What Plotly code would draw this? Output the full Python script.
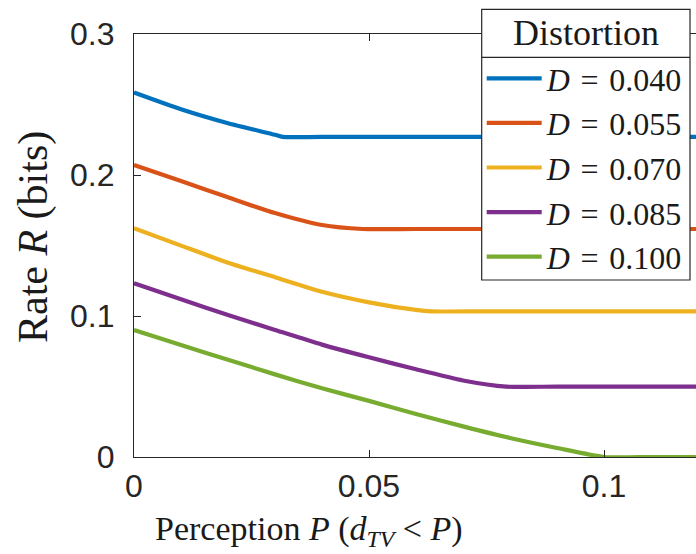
import plotly.graph_objects as go

# ---- data ----
series_names = ["<i>D</i>\u2004=\u20040.040", "<i>D</i>\u2004=\u20040.055",
                "<i>D</i>\u2004=\u20040.070", "<i>D</i>\u2004=\u20040.085",
                "<i>D</i>\u2004=\u20040.100"]
colors = ["#0072BD", "#D95319", "#EDB120", "#7E2F8E", "#77AC30"]

p_d040 = [0, 0.01, 0.02, 0.03, 0.0316, 0.04, 0.12]
r_d040 = [0.2585, 0.2466, 0.2367, 0.2285, 0.2270, 0.2270, 0.2270]

p_d055 = [0, 0.01, 0.02, 0.03, 0.04, 0.0486, 0.06, 0.12]
r_d055 = [0.2071, 0.1957, 0.1842, 0.1730, 0.1645, 0.1617, 0.1617, 0.1617]

p_d070 = [0, 0.01, 0.02, 0.03, 0.04, 0.05, 0.06, 0.0632, 0.075, 0.12]
r_d070 = [0.1622, 0.1499, 0.1378, 0.1275, 0.1172, 0.1097, 0.1043, 0.1033, 0.1033, 0.1033]

p_d085 = [0, 0.01, 0.02, 0.03, 0.04, 0.05, 0.06, 0.07, 0.0792, 0.09, 0.12]
r_d085 = [0.1232, 0.1118, 0.1007, 0.0901, 0.0797, 0.0707, 0.0622, 0.0543, 0.0499, 0.0499, 0.0499]

p_d100 = [0, 0.01, 0.02, 0.03, 0.04, 0.05, 0.06, 0.07, 0.08, 0.09, 0.1, 0.11, 0.12]
r_d100 = [0.0901, 0.0794, 0.0690, 0.0586, 0.0487, 0.0398, 0.0305, 0.0217, 0.0135, 0.0064, 0.0, 0.0, 0.0]

xs = [p_d040, p_d055, p_d070, p_d085, p_d100]
ys = [r_d040, r_d055, r_d070, r_d085, r_d100]

x_ticks = [0, 0.05, 0.1]
x_ticklabels = ["0", "0.05", "0.1"]
y_ticks = [0, 0.1, 0.2, 0.3]
y_ticklabels = ["0", "0.1", "0.2", "0.3"]
legend_title = "Distortion"
x_title = "Perception <i>P</i> (<i>d</i><sub><i>TV</i></sub> &lt; <i>P</i>)"
y_title = "Rate <i>R</i> (bits)"

# ---- figure (page body margin removed below, so figure px == screen px) ----
W, H = 696, 554
PL, PR, PT, PB = 134, 696, 34, 457   # plot area in pixels
ML, MR, MT, MB = PL, W - PR, PT, H - PB
pw, ph = PR - PL, PB - PT
x_max = 0.05 * pw / 235.0

fig = go.Figure()
for i, (x, y) in enumerate(zip(xs, ys)):
    fig.add_trace(go.Scatter(x=x, y=y, mode="lines", name=series_names[i],
                             legendgroup=f"g{i}",
                             line=dict(color=colors[i], width=4.2,
                                       shape="spline", smoothing=0.6)))

def px_x(sx):
    return (sx - PL) / pw

def px_y(sy):
    return (PB - sy) / ph

serif = "Liberation Serif"
sans = "Liberation Sans"
axcol = "#262626"
txtcol = "#1a1a1a"

# legend box background / border / separator (under the transparent legend)
box_l, box_r, box_t, box_b = 481.7, 690, 9.3, 280
sep_y = 57.3
fig.add_shape(type="rect", xref="paper", yref="paper",
              x0=px_x(box_l), x1=px_x(box_r), y0=px_y(box_b), y1=px_y(box_t),
              fillcolor="white", line=dict(color=axcol, width=1.2), layer="above")
fig.add_shape(type="line", xref="paper", yref="paper",
              x0=px_x(box_l), x1=px_x(box_r), y0=px_y(sep_y), y1=px_y(sep_y),
              line=dict(color=axcol, width=1.2), layer="above")
fig.add_annotation(text=legend_title, xref="paper", yref="paper",
                   x=px_x((box_l + box_r) / 2), y=px_y((box_t + sep_y) / 2),
                   xanchor="center", yanchor="middle", showarrow=False,
                   font=dict(family=serif, size=36, color=txtcol))

# axis titles
fig.add_annotation(text=x_title, xref="paper", yref="paper",
                   x=px_x(308.5), y=px_y(531), xanchor="center", yanchor="middle",
                   showarrow=False, font=dict(family=serif, size=34, color=txtcol))
fig.add_annotation(text=y_title, xref="paper", yref="paper", textangle=-90,
                   x=px_x(33), y=px_y(237), xanchor="center", yanchor="middle",
                   showarrow=False, font=dict(family=serif, size=42, color=txtcol))

fig.update_layout(
    width=W, height=H,
    margin=dict(l=ML, r=MR, t=MT, b=MB, pad=0),
    paper_bgcolor="white", plot_bgcolor="white",
    showlegend=True,
    legend=dict(
        x=px_x(box_l), xanchor="left", y=px_y(51), yanchor="top",
        bgcolor="rgba(0,0,0,0)", borderwidth=0,
        font=dict(family=serif, size=32, color=txtcol),
        traceorder="grouped", tracegroupgap=0, itemwidth=55,
    ),
    xaxis=dict(range=[0, x_max], tickvals=x_ticks, ticktext=x_ticklabels,
               showline=True, linecolor=axcol, linewidth=1.2, mirror="ticks",
               ticks="inside", ticklen=7, tickcolor=axcol, tickwidth=1.2,
               showgrid=False, zeroline=False,
               tickfont=dict(family=sans, size=32, color=axcol)),
    yaxis=dict(range=[0, 0.3], tickvals=y_ticks, ticktext=y_ticklabels,
               showline=True, linecolor=axcol, linewidth=1.2, mirror=False,
               ticks="inside", ticklen=7, tickcolor=axcol, tickwidth=1.2,
               showgrid=False, zeroline=False, ticklabelstandoff=12,
               tickfont=dict(family=sans, size=32, color=axcol)),
)

fig.write_html(
    "out.html",
    config={"displayModeBar": False},
    post_script="document.body.style.margin='0';document.body.style.overflow='hidden';",
)
